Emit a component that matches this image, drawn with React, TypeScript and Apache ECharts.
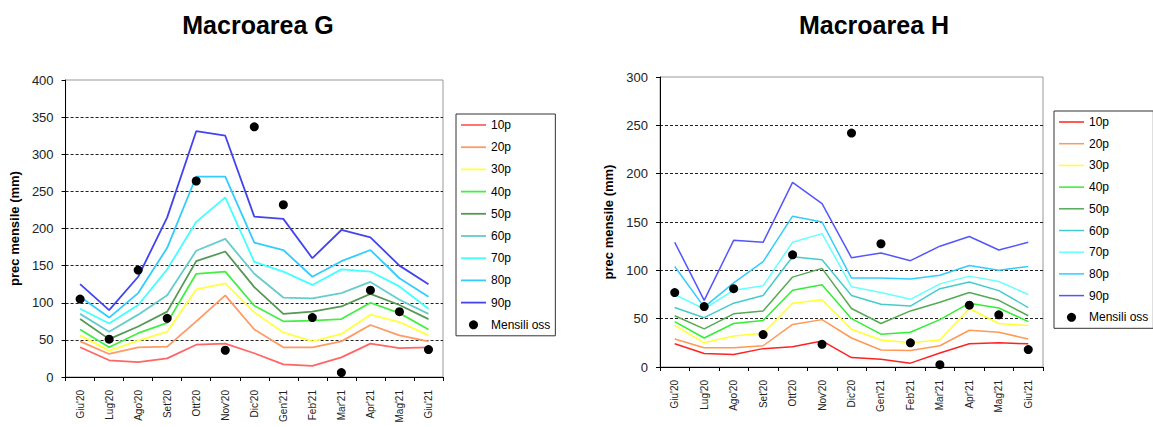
import React, { useEffect, useRef } from 'react';
import * as echarts from 'echarts';

const months = ["Giu'20", "Lug'20", "Ago'20", "Set'20", "Ott'20", "Nov'20", "Dic'20", "Gen'21", "Feb'21", "Mar'21", "Apr'21", "Mag'21", "Giu'21"];
const percentileNames = ['10p', '20p', '30p', '40p', '50p', '60p', '70p', '80p', '90p'];
const obsName = 'Mensili oss';
const yAxisName = 'prec mensile (mm)';

// Macroarea G
const gP10 = [40, 22.5, 20, 25, 43.5, 45, 32, 17, 15, 26.5, 45, 39, 40];
const gP20 = [48, 31, 40, 41, 75, 110, 64, 40, 40, 48, 70, 56, 48];
const gP30 = [56, 35.5, 49, 61, 118, 126, 87, 60, 48, 58, 84, 74, 56];
const gP40 = [64, 40, 59, 73, 139, 142, 96, 75, 76, 78, 100, 86, 64];
const gP50 = [78, 51, 68, 88, 156, 169, 121, 85, 88, 95, 112, 97, 78];
const gP60 = [85, 61, 84, 110, 170, 186, 139, 107, 106, 113, 128, 104, 85];
const gP70 = [92, 72, 97, 145, 209, 242, 155, 142, 124, 145, 142, 122, 92];
const gP80 = [108, 80, 113, 174, 270, 270, 181, 171, 135, 156, 171, 133, 108];
const gP90 = [125, 90, 135, 215, 331, 325, 216, 213, 160, 198, 188, 150, 125];
const gObs = [105, 51, 144, 79, 264, 36, 337, 232, 80, 6, 117, 88, 37];

// Macroarea H
const hP10 = [24, 14, 13, 19, 21, 27, 9.7, 8, 4, 14.5, 24, 25, 24];
const hP20 = [29, 20, 20, 22, 44, 49, 30, 17.6, 17, 22, 38, 36, 29];
const hP30 = [43, 25, 32, 35, 66, 69.5, 39, 28, 25, 28, 60.5, 45, 43];
const hP40 = [47, 30, 45, 48, 79.5, 85, 50, 34, 36, 49, 66, 61, 47];
const hP50 = [53, 39.5, 55, 58, 93, 102, 60.5, 45, 58, 67, 77, 69, 53];
const hP60 = [61.5, 51, 66, 74, 114, 111, 74, 65, 63, 81, 88, 79, 61.5];
const hP70 = [75, 60, 79.5, 84, 129, 138, 83, 77, 70, 86, 94, 88.5, 75];
const hP80 = [104, 62, 87, 109, 156, 150, 92, 92, 91, 95, 105, 100, 104];
const hP90 = [129, 69, 131, 129, 191, 169, 113, 118, 110, 125, 135, 121, 129];
const hObs = [77, 62.5, 81, 33.5, 116, 23.5, 242, 127.5, 25, 2.4, 64, 54, 18];

const gColors = ['#ff6666', '#ff9966', '#ffff44', '#44ee44', '#559955', '#66cccc', '#44ffff', '#33ccff', '#4444ee'];
const hColors = ['#ff2222', '#ff9955', '#ffff33', '#33ee33', '#55aa55', '#44cccc', '#66ffff', '#33ccff', '#5555ff'];

interface Cfg {
  title: string;
  titleX: number;
  series: number[][];
  obs: number[];
  colors: string[];
  yMax: number;
  grid: { left: number; top: number; width: number; height: number };
  legend: { left: number; top: number; gap: number };
  lineWidth: number;
}

function buildOption(c: Cfg): any {
  const font = 'Liberation Sans, Arial, sans-serif';
  const lineIcon = `path://M0,0L25,0L25,${c.lineWidth}L0,${c.lineWidth}Z`;
  const lines = c.series.map((d, i) => ({
    name: percentileNames[i],
    type: 'line',
    data: d,
    symbol: 'none',
    lineStyle: { color: c.colors[i], width: c.lineWidth },
    itemStyle: { color: c.colors[i] },
    z: 2,
  }));
  return {
    animation: false,
    textStyle: { fontFamily: font },
    title: {
      text: c.title,
      left: c.titleX,
      textAlign: 'center',
      top: 12,
      padding: 0,
      textStyle: { fontSize: 25, fontWeight: 'bold', color: '#000', fontFamily: font },
    },
    legend: {
      orient: 'vertical',
      left: c.legend.left,
      top: c.legend.top,
      padding: [4, 5, 4, 5],
      borderColor: '#333',
      borderWidth: 1,
      itemWidth: 25,
      itemHeight: 9,
      itemGap: c.legend.gap,
      textStyle: { fontSize: 12, color: '#000', lineHeight: 14, fontFamily: font },
      data: [
        ...percentileNames.map((n, i) => ({ name: n, icon: lineIcon, itemStyle: { color: c.colors[i] } })),
        { name: obsName, icon: 'circle', itemStyle: { color: '#000' } },
      ],
    },
    grid: {
      show: true,
      left: c.grid.left,
      top: c.grid.top,
      width: c.grid.width,
      height: c.grid.height,
      borderColor: '#999',
      borderWidth: 1,
      containLabel: false,
    },
    xAxis: {
      type: 'category',
      data: months,
      boundaryGap: true,
      axisLine: { lineStyle: { color: '#000', width: 1 } },
      axisTick: { show: true, length: 4, lineStyle: { color: '#000' } },
      axisLabel: { rotate: 90, fontSize: 10, color: '#222', margin: 13, interval: 0 },
      splitLine: { show: false },
    },
    yAxis: {
      type: 'value',
      min: 0,
      max: c.yMax,
      interval: 50,
      name: yAxisName,
      nameLocation: 'middle',
      nameGap: 39,
      nameTextStyle: { fontSize: 13, fontWeight: 'bold', color: '#000' },
      axisLine: { show: true, lineStyle: { color: '#000', width: 1 } },
      axisTick: { show: true, length: 4, lineStyle: { color: '#000' } },
      axisLabel: { fontSize: 13, color: '#222', margin: 12 },
      splitLine: {
        show: true,
        showMinLine: false,
        showMaxLine: false,
        lineStyle: { color: '#222', type: [3, 2], width: 1 },
      },
    },
    series: [
      ...lines,
      {
        name: obsName,
        type: 'scatter',
        data: c.obs,
        symbol: 'circle',
        symbolSize: 9,
        itemStyle: { color: '#000', opacity: 1 },
        z: 5,
      },
    ],
  };
}

function Chart({ cfg, style }: { cfg: Cfg; style: React.CSSProperties }) {
  const ref = useRef<HTMLDivElement>(null);
  useEffect(() => {
    if (!ref.current) return;
    const chart = echarts.init(ref.current, undefined, { renderer: 'svg' });
    chart.setOption(buildOption(cfg));
    return () => chart.dispose();
  }, [cfg]);
  return <div ref={ref} style={style} />;
}

const gCfg: Cfg = {
  title: 'Macroarea G',
  titleX: 258,
  series: [gP10, gP20, gP30, gP40, gP50, gP60, gP70, gP80, gP90],
  obs: gObs,
  colors: gColors,
  yMax: 400,
  grid: { left: 61, top: 80, width: 382, height: 297 },
  legend: { left: 456, top: 114, gap: 8.2 },
  lineWidth: 1.8,
};

const hCfg: Cfg = {
  title: 'Macroarea H',
  titleX: 298,
  series: [hP10, hP20, hP30, hP40, hP50, hP60, hP70, hP80, hP90],
  obs: hObs,
  colors: hColors,
  yMax: 300,
  grid: { left: 84, top: 77, width: 383, height: 290 },
  legend: { left: 478, top: 111, gap: 7.7 },
  lineWidth: 1.5,
};

export default function App() {
  return (
    <div style={{ position: 'absolute', left: 0, top: 0, width: 1153, height: 427, background: '#fff' }}>
      <Chart cfg={gCfg} style={{ position: 'absolute', left: 0, top: 0, width: 576, height: 427 }} />
      <Chart cfg={hCfg} style={{ position: 'absolute', left: 576, top: 0, width: 577, height: 427 }} />
    </div>
  );
}
